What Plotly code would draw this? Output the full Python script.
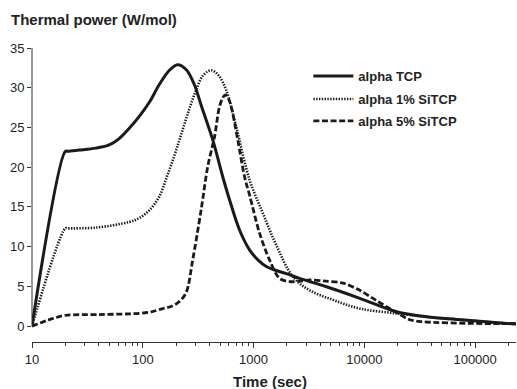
import plotly.graph_objects as go

# ---- data ----
t_tcp = [10, 20, 21, 26.6, 37.7, 49.8, 61.2, 75.5, 93, 115, 141, 174, 206, 246, 290, 340, 429, 527, 607, 747,
         920, 1100, 1303, 1603, 1976, 2606, 4550, 9100, 19550, 36600, 68200, 96600, 234000]
y_tcp = [0, 22, 22.0, 22.15, 22.4, 22.8, 23.6, 24.9, 26.4, 28.2, 30.4, 32.2, 32.9, 32.3, 30.5, 27.6, 23.4, 18.8, 15.9, 12.1,
         9.6, 8.3, 7.5, 7.0, 6.6, 6.0, 4.95, 3.5, 1.8, 1.17, 0.84, 0.67, 0.25]

t_si1 = [10, 20, 21, 38, 75, 93, 115, 141, 164, 190, 214, 240, 270, 303, 348, 414, 480, 566, 697, 920,
         1214, 1603, 2270, 3214, 5220, 9100, 19550, 36600, 96600, 234000]
y_si1 = [0, 12.3, 12.3, 12.4, 13.1, 13.6, 14.6, 16.3, 18.7, 21.2, 23.4, 25.6, 27.8, 29.7, 31.5, 32.2, 31.6, 29.7, 25.1, 18.4,
         14.2, 10.2, 6.2, 4.5, 3.3, 2.2, 1.6, 1.15, 0.67, 0.25]

t_si5 = [10, 15, 20, 40, 93, 120, 151, 174, 210, 246, 282, 336, 386, 444, 492, 530, 558, 590, 629,
         721, 829, 920, 1133, 1396, 1718, 2120, 2600, 3214, 4500, 6430, 9100, 12900, 19550,
         25800, 34000, 96600, 234000]
y_si5 = [0, 0.9, 1.35, 1.45, 1.6, 1.8, 2.2, 2.4, 3.0, 4.2, 8.3, 14.6, 20.1, 23.8, 27.6, 28.8, 29.1, 28.7, 27.6,
         23.4, 18.8, 16.5, 11.7, 8.3, 6.0, 5.6, 5.65, 5.8, 5.65, 5.4, 4.5, 3.2, 1.7,
         0.8, 0.55, 0.34, 0.3]

series_names = ["alpha TCP", "alpha 1% SiTCP", "alpha 5% SiTCP"]
y_ticks = [0, 5, 10, 15, 20, 25, 30, 35]
x_ticks = [10, 100, 1000, 10000, 100000]
x_tick_text = ["10", "100", "1000", "10000", "100000"]
x_minor = [m * 10 ** d for d in range(1, 6) for m in range(2, 10) if m * 10 ** d <= 234000]

INK = "#1a1a1a"
FONT = "Liberation Sans, Arial, sans-serif"

fig = go.Figure()
fig.add_trace(go.Scatter(x=t_tcp, y=y_tcp, mode="lines", name=series_names[0], showlegend=True,
                         line=dict(color=INK, width=3, shape="spline", smoothing=1.0),
                         legend="legend"))
fig.add_trace(go.Scatter(x=t_si1, y=y_si1, mode="lines", name=series_names[1], showlegend=True,
                         line=dict(color=INK, width=2.6, dash="1.4px,1.4px", shape="spline", smoothing=1.0),
                         legend="legend2"))
fig.add_trace(go.Scatter(x=t_si5, y=y_si5, mode="lines", name=series_names[2], showlegend=True,
                         line=dict(color=INK, width=2.8, dash="6px,2.6px", shape="spline", smoothing=0.9),
                         legend="legend3"))

leg_common = dict(xanchor="left", yanchor="middle", bgcolor="rgba(0,0,0,0)",
                  font=dict(family=FONT, size=13, color="#222", weight="bold"),
                  itemwidth=40, borderwidth=0)

fig.update_layout(
    width=517, height=389,
    showlegend=True,
    margin=dict(l=32, r=1, t=48, b=47),
    paper_bgcolor="white", plot_bgcolor="white",
    font=dict(family=FONT, size=13, color="#222"),
    legend=dict(x=0.571, y=0.905, **leg_common),
    legend2=dict(x=0.571, y=0.8265, **leg_common),
    legend3=dict(x=0.571, y=0.7517, **leg_common),
    xaxis=dict(type="log", range=[1, 5.369], showgrid=False, zeroline=False,
               showline=True, linecolor="#333", linewidth=1,
               ticks="outside", ticklen=5, tickcolor="#333", tickwidth=1,
               tickvals=x_ticks, ticktext=x_tick_text,
               tickfont=dict(family=FONT, size=13, color="#222"),
               minor=dict(tickvals=x_minor, ticks="outside", ticklen=3,
                          tickcolor="#333", tickwidth=1, showgrid=False)),
    yaxis=dict(range=[-2.0, 35], showgrid=False, zeroline=False, showline=False,
               ticks="outside", ticklen=4, tickcolor="#333", tickwidth=1,
               tickvals=y_ticks, tickfont=dict(family=FONT, size=13, color="#222")),
    shapes=[dict(type="line", xref="paper", yref="y", x0=0, x1=0, y0=0, y1=35,
                 line=dict(color="#333", width=1))],
    annotations=[
        dict(text="<b>Thermal power (W/mol)</b>", xref="paper", yref="paper",
             x=-0.048, y=1.0 + (48 - 19) / 294, xanchor="left", yanchor="middle",
             showarrow=False, font=dict(family=FONT, size=15, color="#222")),
        dict(text="<b>Time (sec)</b>", xref="paper", yref="paper",
             x=(270 - 32) / 484, y=(342 - 381) / 294, xanchor="center", yanchor="middle",
             showarrow=False, font=dict(family=FONT, size=15, color="#222")),
    ],
)

fig.write_html("out.html")
